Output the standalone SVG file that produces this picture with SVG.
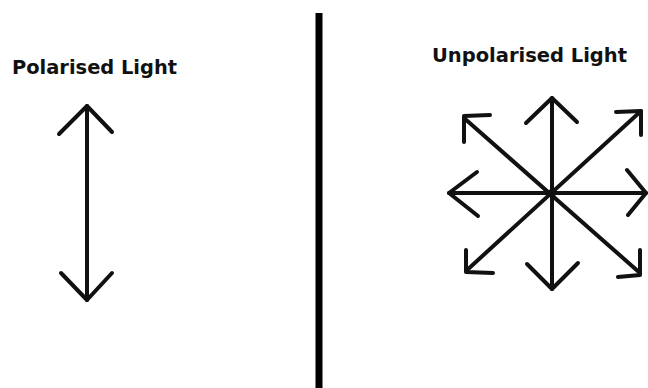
<svg xmlns="http://www.w3.org/2000/svg" width="648" height="388" viewBox="0 0 648 388">
<style>
.t{font-family:"DejaVu Sans","Verdana",sans-serif;font-weight:bold;font-size:19px;fill:#111}
.a{fill:none;stroke:#111;stroke-width:4;stroke-linecap:round;stroke-linejoin:round}
</style>
<rect width="648" height="388" fill="#fff"/>
<line x1="319" y1="13" x2="319" y2="388" stroke="#000" stroke-width="7"/>
<g id="polarised-label"><text class="t" x="12" y="74" textLength="165" lengthAdjust="spacingAndGlyphs">Polarised Light</text></g>
<g id="unpolarised-label"><text class="t" x="432" y="62" textLength="195" lengthAdjust="spacingAndGlyphs">Unpolarised Light</text></g>
<g id="polarised-arrow" class="a">
<line x1="87" y1="106" x2="87" y2="300"/>
<polyline points="59,134 87,106 112,132"/>
<polyline points="61,273 87,300 112,273"/>
</g>
<g id="unpolarised-arrows" class="a">
<line x1="552" y1="98" x2="552" y2="289"/>
<line x1="449" y1="193" x2="646" y2="193"/>
<line x1="464" y1="118" x2="640" y2="273"/>
<line x1="641" y1="111" x2="466" y2="271"/>
<polyline points="526,123 552,98 577,122"/>
<polyline points="527,264 552,289 578,263"/>
<polyline points="477,172 449,193 478,216"/>
<polyline points="627,170 646,193 628,215"/>
<polyline points="490,115 464,116 464,142"/>
<polyline points="616,112 641,111 641,135"/>
<polyline points="466,250 466,272 493,273"/>
<polyline points="640,250 640,275 618,277"/>
<circle cx="552" cy="193" r="4" fill="#111" stroke="none"/>
</g>
</svg>
